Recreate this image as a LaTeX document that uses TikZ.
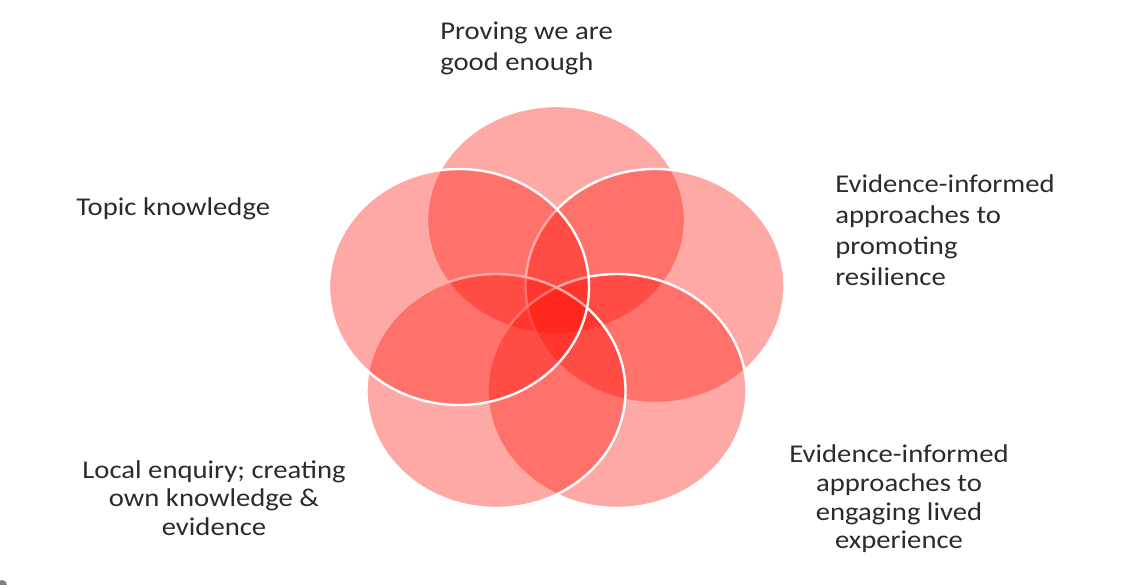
\documentclass[tikz,border=0pt]{standalone}
\usepackage{fontspec}
\setmainfont[FakeStretch=1.12]{Carlito}
\definecolor{petalred}{rgb}{1,0.04,0}
\definecolor{labeltext}{HTML}{2B2B2B}

\begin{document}
\begin{tikzpicture}[
    x=0.025cm, y=-0.025cm,
    petal/.style={draw=white, line width=1.7pt, fill=petalred, fill opacity=0.35},
    label1/.style={text=labeltext, font=\fontsize{18.2}{22}\selectfont, align=left, anchor=west, inner sep=0pt},
    label2/.style={text=labeltext, font=\fontsize{18.2}{20.4}\selectfont, align=center, inner sep=0pt}
]
\useasboundingbox (0,0) rectangle (1122,584);

% Petals
\draw[petal] (556,220) ellipse (129 and 114);
\draw[petal] (655,286) ellipse (129.5 and 117);
\draw[petal] (617,391) ellipse (129.5 and 117);
\draw[petal] (496,391) ellipse (129.5 and 117);
\draw[petal] (459,287) ellipse (130 and 118);

% Labels
\node[label1] (proving) at (440,48) {Proving we are\\good enough};
\node[label1] (topic) at (76,209) {Topic knowledge};
\node[label1] (resilience) at (835,230) {Evidence-informed\\approaches to\\promoting\\resilience};
\node[label2] (local) at (214,498) {Local enquiry; creating\\own knowledge \&\\evidence};
\node[label2] (lived) at (899,499) {Evidence-informed\\approaches to\\engaging lived\\experience};

% Corner mark
\fill[gray] (2,585) circle (5);

\end{tikzpicture}
\end{document}
